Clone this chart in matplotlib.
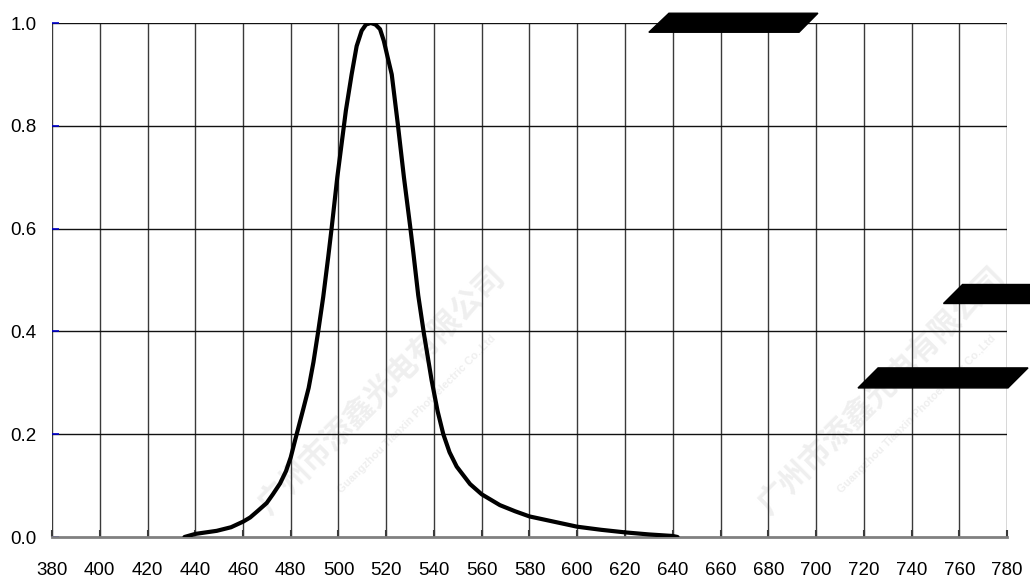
import numpy as np
import matplotlib
matplotlib.use('Agg')
import matplotlib.pyplot as plt
from matplotlib.patches import Polygon

# relative spectral intensity
wavelength = [435.5, 440, 449, 455, 460.1, 463, 466, 469.9, 472.5, 475.5, 478, 480, 481.8,
              483.5, 485.3, 487.5, 489.5, 491.5, 493.6, 495.7, 497.1, 499.5, 501.3,
              503.1, 505.5, 507.6, 509.7, 511.5, 513.5, 515.5, 517.4, 519, 520.5,
              522.3, 524.8, 527.4, 530, 531.3, 533.4, 535.8, 539, 541.5, 543.9, 546.5,
              549.5, 555.1, 560, 567.6, 574, 580, 590, 600, 610, 620, 630, 640, 642]
intensity = [0.0, 0.006, 0.012, 0.019, 0.030, 0.038, 0.050, 0.066, 0.083, 0.104, 0.128, 0.155, 0.188,
             0.218, 0.250, 0.290, 0.340, 0.400, 0.467, 0.545, 0.600, 0.700, 0.765,
             0.830, 0.900, 0.955, 0.985, 0.997, 1.0, 0.997, 0.988, 0.965, 0.935,
             0.900, 0.805, 0.700, 0.605, 0.555, 0.470, 0.395, 0.305, 0.245, 0.200, 0.165,
             0.137, 0.103, 0.083, 0.062, 0.050, 0.040, 0.030, 0.020, 0.014, 0.009, 0.005, 0.002, 0.0]

x_ticks = list(range(380, 781, 20))
y_ticks = [0.0, 0.2, 0.4, 0.6, 0.8, 1.0]

# black blotches covering parts of the original sheet (wavelength, intensity corners)
blotches = [
    [(630, 0.982), (692.9, 0.982), (700.8, 1.019), (638.4, 1.019)],
    [(753.2, 0.455), (792, 0.455), (792, 0.492), (761.2, 0.492)],
    [(717.6, 0.290), (780.4, 0.290), (788.8, 0.329), (726.0, 0.329)],
]

plt.rcParams['font.family'] = ['Liberation Sans', 'DejaVu Sans']

fig = plt.figure(figsize=(10.30, 5.83), dpi=100)
ax = fig.add_axes([52 / 1030, 46 / 583, 955 / 1030, 514 / 583])
ax.set_facecolor('none')

# faint company watermark
wm_cn = '广州市添鑫光电有限公司'
wm_en = 'Guangzhou Tianxin Photoelectric Co.,Ltd'
for fx in [0.37, 0.855]:
    fig.text(fx, 0.33, wm_cn, rotation=45, fontsize=22, color='#efefef',
             family=['Noto Sans CJK SC', 'DejaVu Sans'], ha='center', va='center',
             fontweight='bold', zorder=-1)
    fig.text(fx + 0.035, 0.29, wm_en, rotation=45, fontsize=8, color='#efefef',
             ha='center', va='center', fontweight='bold', zorder=-1)

for x in x_ticks:
    ax.axvline(x, color='#3a3a3a', lw=1.0, zorder=1)
for y in y_ticks[1:]:
    ax.axhline(y, color='#111111', lw=1.0, zorder=1)

ax.plot(wavelength, intensity, color='black', lw=3.0, solid_capstyle='round',
        solid_joinstyle='round', zorder=3)

for b in blotches:
    ax.add_patch(Polygon(b, closed=True, facecolor='black', edgecolor='black',
                         clip_on=False, zorder=4))

ax.set_xlim(380, 780)
ax.set_ylim(0, 1.0)
ax.set_xticks(x_ticks)
ax.set_yticks(y_ticks)
ax.set_yticklabels([f'{v:.1f}' for v in y_ticks])

for s in ['top', 'right', 'left']:
    ax.spines[s].set_visible(False)
ax.spines['bottom'].set_color('#808080')
ax.spines['bottom'].set_linewidth(2.0)

ax.tick_params(axis='x', direction='in', length=5, width=1.5, color='#3a3a3a',
               labelsize=13.5, pad=18)
ax.tick_params(axis='y', direction='in', length=5, width=1.2, color='#0000cc',
               labelsize=13.5, pad=11)

fig.savefig('out.png', dpi=100)
